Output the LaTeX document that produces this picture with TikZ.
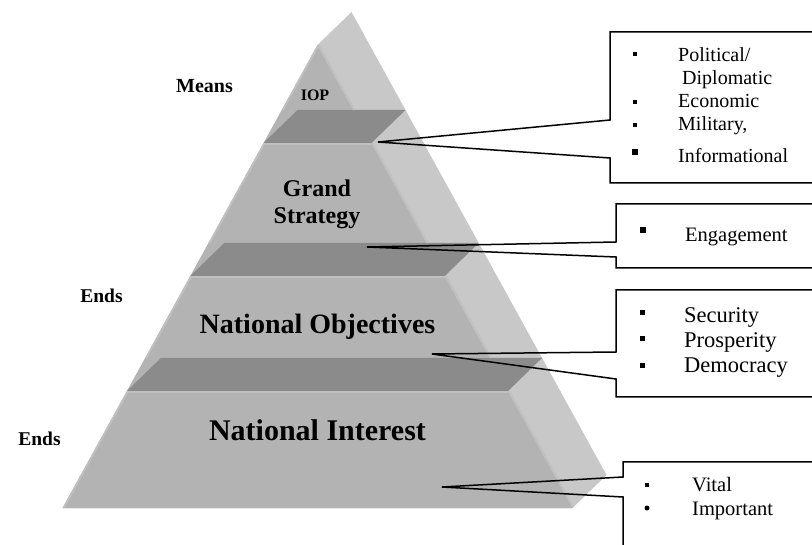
\documentclass[tikz,border=0pt]{standalone}
\usepackage{fontspec}
\setmainfont{Liberation Serif}
\usetikzlibrary{positioning}

\definecolor{facegray}{RGB}{179,179,179}
\definecolor{topgray}{RGB}{139,139,139}
\definecolor{sidegray}{RGB}{200,200,200}
\definecolor{edgegray}{RGB}{192,192,192}

\begin{document}
\begin{tikzpicture}[x=1pt,y=-1pt,
		level/.style={anchor=base,inner sep=0pt,font=\bfseries\fontsize{#1}{#1}\selectfont},
		item/.style={anchor=base west,inner sep=0pt,font=\fontsize{#1}{#1}\selectfont},
		callout/.style={draw=black,line width=1.5pt,line join=miter},
		sqbullet/.style={fill=black,inner sep=0pt,minimum size=#1},
		rdbullet/.style={circle,fill=black,inner sep=0pt,minimum size=#1}
	]
	\useasboundingbox (0,0) rectangle (812,545);
	\clip (0,0) rectangle (812,545);
	
	% pyramid: side, front and the tops of the layers
	\fill[sidegray] (317.5,45) -- (351.5,12) -- (606.5,475) -- (572.5,508) -- cycle;
	\fill[facegray] (317.5,45) -- (572.5,508) -- (62.5,508) -- cycle;
	\begin{scope}
		\clip (62.5,508) -- (317.5,45) -- (351.5,12) -- (606.5,475) -- (572.5,508) -- cycle;
		\foreach \yb/\yt in {143/110,276/243,391/358}{
			\pgfmathsetmacro\hw{0.5508*(\yb-45)}
			\fill[topgray] (317.5-\hw,\yb) -- (317.5+\hw,\yb) -- ++(34,-33) -- (317.5-\hw+34,\yt) -- cycle;
			\draw[edgegray,line width=2pt] (317.5-\hw,\yb+1.5) -- (317.5+\hw,\yb+1.5);
		}
		\foreach \ya/\yb in {45/110,143/243,276/358,391/508}{
			\pgfmathsetmacro\ha{0.5508*(\ya-45)}
			\pgfmathsetmacro\hb{0.5508*(\yb-45)}
			\draw[edgegray,line width=2pt] (318.5+\ha,\ya) -- (318.5+\hb,\yb);
			\draw[edgegray,line width=2pt] (318.5-\ha,\ya) -- (318.5-\hb,\yb);
		}
		\draw[black!35,line width=1pt] (62.5,508) -- (572.5,508);
	\end{scope}
	
	\node[level=16] (iop) at (315,101) {IOP};
	\node[level=24] (grand) at (317,197) {Grand};
	\node[level=24] (strategy) at (317,224) {Strategy};
	\node[level=28] (objectives) at (317.5,334) {National Objectives};
	\node[level=30] (interest) at (317.5,441) {National Interest};
	
	\node[level=20] (means) at (204.5,93) {Means};
	\node[level=19.5] (endsA) at (101.5,303) {Ends};
	\node[level=19.5] (endsB) at (39.5,446) {Ends};
	
	% callouts
	\coordinate (tipIOP) at (378,142);
	\coordinate (tipGS) at (367,247);
	\coordinate (tipNO) at (432,354);
	\coordinate (tipNI) at (442,487);
	\draw[callout] (830,32) -- (610,32) -- (610,120) -- (tipIOP) -- (610,158) -- (610,183) -- (830,183);
	\draw[callout] (830,204) -- (616,204) -- (616,242) -- (tipGS) -- (616,257) -- (616,268) -- (830,268);
	\draw[callout] (830,290) -- (616,290) -- (616,352) -- (tipNO) -- (616,379) -- (616,397) -- (830,397);
	\draw[callout] (830,462) -- (623,462) -- (623,477) -- (tipNI) -- (623,497) -- (623,560);
	
	\node[sqbullet=4pt] (bulPol) at (635,54) {};
	\node[sqbullet=4pt] (bulEco) at (635,102) {};
	\node[sqbullet=4pt] (bulMil) at (635,125) {};
	\node[sqbullet=6.5pt] (bulInf) at (635,152) {};
	\node[item=20] (pol) at (678,62) {Political/};
	\node[item=20] (dip) at (682,85) {Diplomatic};
	\node[item=20] (eco) at (678,108) {Economic};
	\node[item=20] (mil) at (678,131) {Military,};
	\node[item=20] (inf) at (678,163) {Informational};
	
	\node[sqbullet=6.5pt] (bulEng) at (643,230) {};
	\node[item=20.5] (eng) at (685,242) {Engagement};
	
	\node[sqbullet=5pt] (bulSec) at (642,313) {};
	\node[sqbullet=5pt] (bulPro) at (642,339) {};
	\node[sqbullet=5pt] (bulDem) at (642,366) {};
	\node[item=22.5] (sec) at (684,323) {Security};
	\node[item=22.5] (pro) at (684,348) {Prosperity};
	\node[item=22.5] (dem) at (684,373) {Democracy};
	
	\node[sqbullet=4.5pt] (bulVit) at (647,485) {};
	\node[rdbullet=5pt] (bulImp) at (647,508) {};
	\node[item=20.5] (vit) at (692,491) {Vital};
	\node[item=20.5] (imp) at (692,515) {Important};
\end{tikzpicture}
\end{document}
